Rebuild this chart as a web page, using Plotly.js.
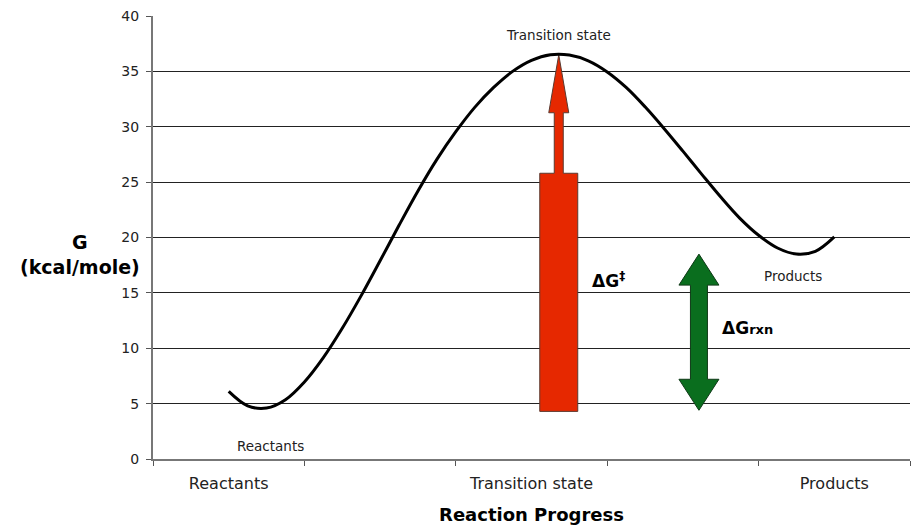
<!DOCTYPE html>
<html>
<head>
<meta charset="utf-8">
<script src="https://cdn.plot.ly/plotly-3.0.1.min.js"></script>
<style>html,body{margin:0;padding:0;background:#fff;}#chart{width:911px;height:527px;}</style>
</head>
<body>
<div id="chart"></div>
<script>
// ---- data ----
const categories = ['Reactants', '', 'Transition state', '', 'Products'];
const progress = [0.5, 0.625, 0.75, 0.875, 1.0, 1.125, 1.25, 1.375, 1.5, 1.625, 1.75, 1.875, 2.0, 2.125, 2.25, 2.375,
                  2.5, 2.625, 2.75, 2.875, 3.0, 3.125, 3.25, 3.375, 3.5, 3.625, 3.75, 3.875, 4.0, 4.125, 4.25, 4.375, 4.5];
const energy   = [6.1, 4.8, 4.6, 5.35, 6.95, 9.15, 11.8, 14.75, 17.9, 21.1, 24.2, 27.05, 29.55, 31.75, 33.55, 35.0,
                  36.0, 36.5, 36.47, 35.95, 34.95, 33.55, 31.8, 29.85, 27.8, 25.7, 23.65, 21.75, 20.2, 19.05, 18.5, 18.75, 20.05];
const yTicks = [0, 5, 10, 15, 20, 25, 30, 35, 40];

// energy differences marked by arrows
const activationArrow = {x: 2.68, from: 4.3, to: 36.5, blockTop: 25.8};
const reactionArrow   = {x: 3.606, from: 4.4, to: 18.5};

const pointLabels = ['Reactants', 'Transition state', 'Products'];
const pointLabelX = [0.773, 2.68, 4.225];
const pointLabelY = [1.17, 38.3, 16.52];

// ---- geometry helpers (pixel sizes converted into data units) ----
const L = 153, R = 1, T = 16, B = 68, W = 911, H = 527;
const pxX = (5 - 0) / (W - L - R);
const pxY = (40 - 0) / (H - T - B);

function redArrowPath(a) {
  const bw = 19 * pxX, nw = 4.5 * pxX, hw = 10 * pxX, hh = 58 * pxY;
  const x = a.x, hb = a.to - hh;
  return `M ${x-bw},${a.from} L ${x+bw},${a.from} L ${x+bw},${a.blockTop} L ${x+nw},${a.blockTop} ` +
         `L ${x+nw},${hb} L ${x+hw},${hb} L ${x},${a.to} L ${x-hw},${hb} L ${x-nw},${hb} ` +
         `L ${x-nw},${a.blockTop} L ${x-bw},${a.blockTop} Z`;
}
function doubleArrowPath(a) {
  const sw = 8.5 * pxX, hw = 20 * pxX, hh = 31 * pxY;
  const x = a.x, top = a.to - hh, bot = a.from + hh;
  return `M ${x},${a.to} L ${x+hw},${top} L ${x+sw},${top} L ${x+sw},${bot} L ${x+hw},${bot} ` +
         `L ${x},${a.from} L ${x-hw},${bot} L ${x-sw},${bot} L ${x-sw},${top} L ${x-hw},${top} Z`;
}

const FONT = 'Verdana, "DejaVu Sans", sans-serif';

const trace = {
  x: progress, y: energy, type: 'scatter', mode: 'lines',
  line: {color: '#000', width: 3, shape: 'spline', smoothing: 1},
  hoverinfo: 'skip'
};

const annotations = pointLabels.map((t, i) => ({
  text: t, x: pointLabelX[i], y: pointLabelY[i], xref: 'x', yref: 'y',
  showarrow: false, font: {family: FONT, size: 13.5, color: '#222'}
}));
annotations.push({
  text: '<b>ΔG<sup>‡</sup></b>', x: 2.886, y: 16.2, xref: 'x', yref: 'y',
  xanchor: 'left', yanchor: 'middle', showarrow: false,
  font: {family: FONT, size: 17, color: '#000'}
});
annotations.push({
  text: '<b>ΔG<span style="font-size:13px">rxn</span></b>', x: 3.745, y: 11.8, xref: 'x', yref: 'y',
  xanchor: 'left', yanchor: 'middle', showarrow: false,
  font: {family: FONT, size: 17, color: '#000'}
});
annotations.push({
  text: '<b>G<br>(kcal/mole)</b>', x: (80 - L) / (W - L - R), y: (459 - 255) / (H - T - B),
  xref: 'paper', yref: 'paper', xanchor: 'center', yanchor: 'middle', showarrow: false,
  font: {family: FONT, size: 19, color: '#000'}
});

const layout = {
  width: W, height: H,
  margin: {l: L, r: R, t: T, b: B, pad: 0},
  paper_bgcolor: '#fff', plot_bgcolor: '#fff',
  showlegend: false,
  font: {family: FONT, color: '#222'},
  xaxis: {
    range: [0, categories.length],
    tickmode: 'array',
    tickvals: categories.map((c, i) => i + 0.5).filter((v, i) => categories[i] !== ''),
    ticktext: categories.filter(c => c !== ''),
    ticks: '', showgrid: false, zeroline: false,
    showline: true, linecolor: '#777', linewidth: 2,
    tickfont: {family: FONT, size: 16, color: '#222'},
    ticklabelstandoff: 9,
    minor: {tickmode: 'linear', tick0: 0, dtick: 1, ticks: 'outside', ticklen: 5, tickwidth: 1, tickcolor: '#555', showgrid: false},
    title: {text: '<b>Reaction Progress</b>', font: {family: FONT, size: 18, color: '#000'}, standoff: 16},
    fixedrange: true
  },
  yaxis: {
    range: [0, 40], tickmode: 'array', tickvals: yTicks,
    ticks: 'outside', ticklen: 5, tickwidth: 1, tickcolor: '#555',
    showgrid: true, gridcolor: '#222', gridwidth: 1, zeroline: false,
    showline: true, linecolor: '#777', linewidth: 2,
    tickfont: {family: FONT, size: 14, color: '#222'},
    ticklabelstandoff: 4,
    fixedrange: true
  },
  shapes: [
    {type: 'path', path: redArrowPath(activationArrow), xref: 'x', yref: 'y',
     fillcolor: '#E62800', line: {color: '#5a3a30', width: 1}, layer: 'between'},
    {type: 'path', path: doubleArrowPath(reactionArrow), xref: 'x', yref: 'y',
     fillcolor: '#0A6E1E', line: {color: '#103a18', width: 1}, layer: 'between'}
  ],
  annotations: annotations
};

Plotly.newPlot('chart', [trace], layout, {staticPlot: true, displayModeBar: false});
</script>
</body>
</html>
